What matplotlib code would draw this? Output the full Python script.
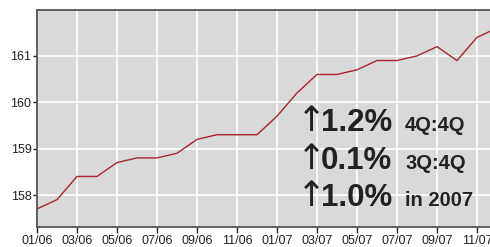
import numpy as np
import matplotlib
matplotlib.use('Agg')
import matplotlib.pyplot as plt

plt.rcParams['font.family'] = ['Liberation Sans', 'DejaVu Sans']

# monthly index values, Jan 2006 - Dec 2007
months = ['01/06', '02/06', '03/06', '04/06', '05/06', '06/06', '07/06', '08/06',
          '09/06', '10/06', '11/06', '12/06', '01/07', '02/07', '03/07', '04/07',
          '05/07', '06/07', '07/07', '08/07', '09/07', '10/07', '11/07', '12/07']
values = [157.7, 157.9, 158.4, 158.4, 158.7, 158.8, 158.8, 158.9,
          159.2, 159.3, 159.3, 159.3, 159.7, 160.2, 160.6, 160.6,
          160.7, 160.9, 160.9, 161.0, 161.2, 160.9, 161.4, 161.6]
yticks = [158, 159, 160, 161]
notes_big = ['1.2%', '0.1%', '1.0%']
notes_small = ['4Q:4Q', '3Q:4Q', 'in 2007']

fig = plt.figure(figsize=(4.9, 2.47), dpi=100)
ax = fig.add_axes([37 / 490, 20 / 247, 460 / 490, 217 / 247])
ax.set_facecolor('#d9d9d9')

x = np.arange(len(months))
ax.plot(x, values, color='#a8262f', lw=1.0)

ax.set_xlim(0, 23)
ax.set_ylim(157.31, 161.99)
ax.set_xticks(x[::2])
ax.set_xticklabels(months[::2])
ax.set_yticks(yticks)
ax.grid(True, color='white', lw=1.2)
ax.set_axisbelow(True)
ax.tick_params(axis='both', labelsize=9, colors='#222222', length=3, width=1, pad=1)
ax.tick_params(axis='x', length=4, pad=2)

for s in ['top', 'left', 'bottom']:
    ax.spines[s].set_color('#555555')
    ax.spines[s].set_linewidth(1.3)
ax.spines['right'].set_visible(False)

# annotation text in figure pixels
for i, (b, s) in enumerate(zip(notes_big, notes_small)):
    yb = 1 - (131 + 37.5 * i) / 247
    fig.text(297 / 490, yb, '\u2191', fontsize=25, color='#222222',
             family='DejaVu Sans', va='baseline', ha='left')
    fig.text(321 / 490, yb, b, fontsize=22.5, fontweight='bold', color='#222222',
             va='baseline', ha='left')
    fig.text(405 / 490, yb, s, fontsize=14.5, fontweight='bold', color='#222222',
             va='baseline', ha='left')

fig.savefig('out.png', dpi=100)
